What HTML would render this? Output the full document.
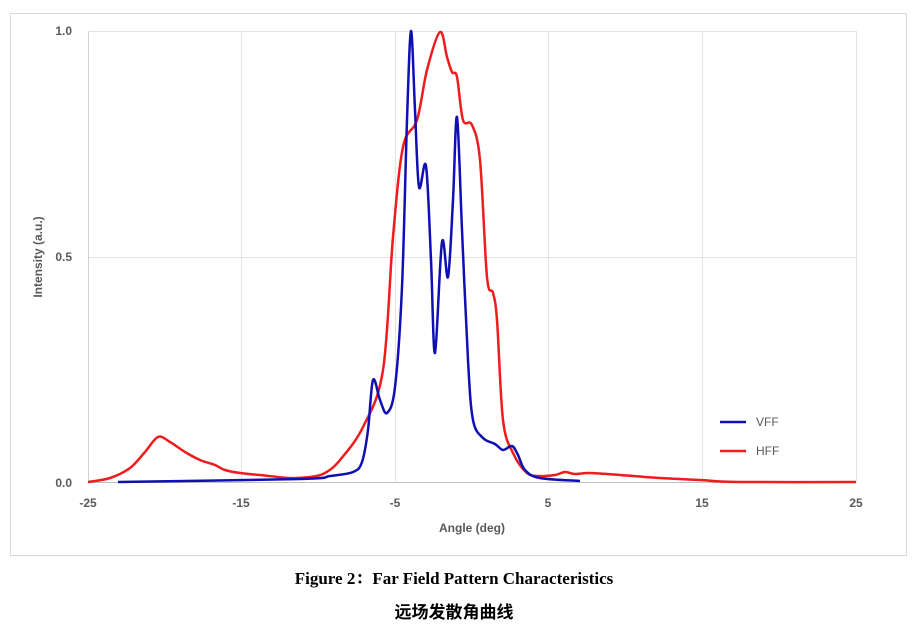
<!DOCTYPE html>
<html><head><meta charset="utf-8"><style>
body{margin:0;background:#fff;width:916px;height:644px;overflow:hidden}
</style></head><body>
<svg width="916" height="644" xmlns="http://www.w3.org/2000/svg" style="position:absolute;left:0;top:0">
<rect x="10.5" y="13.5" width="896" height="542" fill="#fff" stroke="#d9d9d9"/>
<g stroke="#e3e3e3" stroke-width="1">
<line x1="241.5" y1="31" x2="241.5" y2="482"/><line x1="395.5" y1="31" x2="395.5" y2="482"/>
<line x1="548.5" y1="31" x2="548.5" y2="482"/><line x1="702.5" y1="31" x2="702.5" y2="482"/>
<line x1="856.5" y1="31" x2="856.5" y2="482"/>
<line x1="88" y1="31.5" x2="856" y2="31.5"/><line x1="88" y1="257.5" x2="856" y2="257.5"/>
</g>
<line x1="88.5" y1="31" x2="88.5" y2="482" stroke="#d0d0d0"/>
<line x1="88" y1="482.5" x2="856" y2="482.5" stroke="#bfbfbf"/>
<g font-family="Liberation Sans, sans-serif" font-size="12" font-weight="bold" fill="#595959">
<text x="72" y="35" text-anchor="end">1.0</text>
<text x="72" y="261" text-anchor="end">0.5</text>
<text x="72" y="487" text-anchor="end">0.0</text>
<text x="88" y="507" text-anchor="middle">-25</text>
<text x="241" y="507" text-anchor="middle">-15</text>
<text x="395" y="507" text-anchor="middle">-5</text>
<text x="548" y="507" text-anchor="middle">5</text>
<text x="702" y="507" text-anchor="middle">15</text>
<text x="856" y="507" text-anchor="middle">25</text>
<text x="472" y="532" text-anchor="middle">Angle (deg)</text>
<text transform="translate(42,257) rotate(-90)" text-anchor="middle">Intensity (a.u.)</text>
</g>
<path id="red" fill="none" stroke="#ee1c1c" stroke-width="2.5" stroke-linejoin="round" d=""/>
<path id="blue" fill="none" stroke="#0f0fb4" stroke-width="2.5" stroke-linejoin="round" d=""/>
<line x1="720" y1="422" x2="746" y2="422" stroke="#0f0fb4" stroke-width="2.5"/>
<line x1="720" y1="451" x2="746" y2="451" stroke="#ee1c1c" stroke-width="2.5"/>
<g font-family="Liberation Sans, sans-serif" font-size="12" fill="#595959">
<text x="756" y="426">VFF</text><text x="756" y="455">HFF</text>
</g>
<text x="454" y="584" text-anchor="middle" font-family="Liberation Serif, 'Noto Serif CJK SC', serif" font-size="17" font-weight="bold">Figure 2：Far Field Pattern Characteristics</text>
<text x="454" y="618" text-anchor="middle" font-family="'Noto Sans CJK SC', sans-serif" font-size="17" font-weight="bold">远场发散角曲线</text>
</svg>
<script>
function smooth(pts){
  var d="M"+pts[0][0]+","+pts[0][1];
  for(var i=0;i<pts.length-1;i++){
    var p0=pts[i-1]||pts[i],p1=pts[i],p2=pts[i+1],p3=pts[i+2]||p2,t=6;
    var c1=[p1[0]+(p2[0]-p0[0])/t,p1[1]+(p2[1]-p0[1])/t];
    var c2=[p2[0]-(p3[0]-p1[0])/t,p2[1]-(p3[1]-p1[1])/t];
    d+=" C"+c1[0].toFixed(1)+","+c1[1].toFixed(1)+" "+c2[0].toFixed(1)+","+c2[1].toFixed(1)+" "+p2[0]+","+p2[1];
  }
  return d;
}
var red=[[88,482],[110,478],[130,468],[145,452],[158,437],[170,442],[185,452],[200,460],[215,465],[225,470],[240,473],[260,475],[290,478],[310,477],[325,473],[340,460],[363,427],[383,370],[393,237],[403,147],[417,120],[427,70],[440,32],[447,57],[452,72],[457,77],[463,120],[472,125],[480,160],[487,277],[493,293],[497,320],[503,420],[513,453],[527,473],[540,476],[555,475],[565,472],[575,474],[590,473],[620,475],[660,478],[700,480],[740,482],[856,482]];
var blue=[[118,482],[300,479],[330,476],[353,472],[362,462],[368,430],[373,380],[380,400],[387,413],[395,387],[402,287],[407,120],[411,31],[415,110],[419,187],[426,166],[431,260],[435,353],[442,242],[448,277],[453,200],[457,117],[462,230],[468,360],[473,420],[483,438],[495,444],[503,450],[512,446],[518,455],[525,470],[540,478],[580,481]];
document.getElementById("red").setAttribute("d",smooth(red));
document.getElementById("blue").setAttribute("d",smooth(blue));
</script>
</body></html>
